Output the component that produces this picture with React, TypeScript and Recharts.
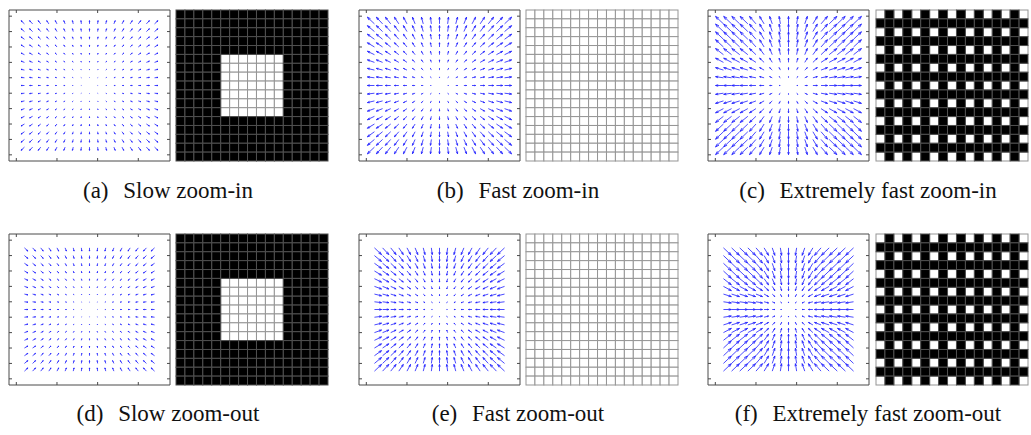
import React from 'react';
import { ScatterChart, Scatter, XAxis, YAxis } from 'recharts';

// ---------- data ----------
const GRID_POS = [1, 2, 3, 4, 5, 6, 7, 8, 9, 10, 11, 12, 13, 14, 15, 16, 17];
const CENTER = 9;
const X_TICKS = [0, 5, 10, 15];
const Y_TICKS = [0, 2, 4, 6, 8, 10, 12, 14, 16, 18];
const X_DOMAIN: [number, number] = [-0.9, 18.9];
const Y_DOMAIN: [number, number] = [-0.8, 18.8];

// flow component (axis units) by offset |d| = 0..8 from the centre
const SLOW_IN = [0, 0.05, 0.1, 0.16, 0.21, 0.26, 0.31, 0.37, 0.42];
const FAST_IN = [0, 0.11, 0.22, 0.33, 0.44, 0.55, 0.66, 0.77, 0.87];
const XFAST_IN = [0, 0.15, 0.32, 0.55, 0.8, 0.95, 0.97, 0.97, 0.97];
const SLOW_OUT = [0, 0.05, 0.1, 0.16, 0.21, 0.26, 0.31, 0.37, 0.42];
const FAST_OUT = [0, 0.11, 0.22, 0.33, 0.44, 0.55, 0.66, 0.77, 0.87];
const XFAST_OUT = [0, 0.15, 0.32, 0.55, 0.8, 0.95, 0.97, 0.97, 0.97];

// 17 x 17 cell patterns, 1 = black
const BLOCK_PATTERN = [
  '11111111111111111',
  '11111111111111111',
  '11111111111111111',
  '11111111111111111',
  '11111111111111111',
  '11111000000011111',
  '11111000000011111',
  '11111000000011111',
  '11111000000011111',
  '11111000000011111',
  '11111000000011111',
  '11111000000011111',
  '11111111111111111',
  '11111111111111111',
  '11111111111111111',
  '11111111111111111',
  '11111111111111111',
];
const BLANK_PATTERN = [
  '00000000000000000', '00000000000000000', '00000000000000000', '00000000000000000',
  '00000000000000000', '00000000000000000', '00000000000000000', '00000000000000000',
  '00000000000000000', '00000000000000000', '00000000000000000', '00000000000000000',
  '00000000000000000', '00000000000000000', '00000000000000000', '00000000000000000',
  '00000000000000000',
];
const CHECK_PATTERN = [
  '01010101010101010', '11111111111111111', '01010101010101010', '11111111111111111',
  '01010101010101010', '11111111111111111', '01010101010101010', '11111111111111111',
  '01010101010101010', '11111111111111111', '01010101010101010', '11111111111111111',
  '01010101010101010', '11111111111111111', '01010101010101010', '11111111111111111',
  '01010101010101010',
];

const LABELS = ['(a)', '(b)', '(c)', '(d)', '(e)', '(f)'];
const CAPTIONS = [
  'Slow zoom-in', 'Fast zoom-in', 'Extremely fast zoom-in',
  'Slow zoom-out', 'Fast zoom-out', 'Extremely fast zoom-out',
];
const PROFILES = [SLOW_IN, FAST_IN, XFAST_IN, SLOW_OUT, FAST_OUT, XFAST_OUT];
const DIRECTIONS = [1, 1, 1, -1, -1, -1];
const PATTERNS = [BLOCK_PATTERN, BLANK_PATTERN, CHECK_PATTERN, BLOCK_PATTERN, BLANK_PATTERN, CHECK_PATTERN];

// ---------- layout ----------
const Q_W = 163;
const Q_H = 153;
const G_W = 154;
const G_H = 153;
const M = 1;
const COL_Q_LEFT = [8, 358, 707];
const COL_G_LEFT = [175, 525, 875];
const ROW_TOP = [9, 233];
const CAP_X = [168, 518, 868];
const CAP_Y = [198, 421];

const KX = (Q_W - 2 * M) / (X_DOMAIN[1] - X_DOMAIN[0]);
const KY = (Q_H - 2 * M) / (Y_DOMAIN[1] - Y_DOMAIN[0]);
const CW = (G_W - 2 * M) / 17;
const CH = (G_H - 2 * M) / 17;

function buildField(profile: number[], dir: number) {
  const out: { x: number; y: number; u: number; v: number }[] = [];
  GRID_POS.forEach((gx) => {
    GRID_POS.forEach((gy) => {
      const dx = gx - CENTER;
      const dy = gy - CENTER;
      out.push({
        x: gx,
        y: gy,
        u: dir * Math.sign(dx) * profile[Math.abs(dx)],
        v: dir * Math.sign(dy) * profile[Math.abs(dy)],
      });
    });
  });
  return out;
}

function buildCells(pattern: string[], want: number) {
  const out: { x: number; y: number; k: number }[] = [];
  pattern.forEach((row, r) => {
    row.split('').forEach((ch, c) => {
      const k = ch === '1' ? 1 : 0;
      if (k === want) out.push({ x: c + 0.5, y: r + 0.5, k });
    });
  });
  return out;
}

const ArrowShape = (props: any) => {
  const { cx, cy, payload } = props;
  const dx = payload.u * KX;
  const dy = -payload.v * KY;
  const len = Math.hypot(dx, dy);
  if (!len || len < 0.3) return <g />;
  const tx = cx + dx;
  const ty = cy + dy;
  const a = 0.33;
  const b = 0.33;
  const h1x = tx - a * (dx + b * dy);
  const h1y = ty - a * (dy - b * dx);
  const h2x = tx - a * (dx - b * dy);
  const h2y = ty - a * (dy + b * dx);
  return (
    <path
      d={`M${cx},${cy}L${tx},${ty}M${h1x},${h1y}L${tx},${ty}L${h2x},${h2y}`}
      stroke="#1f1fff"
      strokeOpacity={0.85}
      strokeWidth={0.95}
      fill="none"
    />
  );
};

const EmptyShape = () => <g />;
const blankTick = () => '';

const CellShape = (props: any) => {
  const { cx, cy, payload } = props;
  return (
    <rect
      x={cx - CW / 2}
      y={cy - CH / 2}
      width={CW}
      height={CH}
      fill={payload.k ? '#000000' : '#ffffff'}
      stroke={payload.k ? '#505050' : '#959595'}
      strokeWidth={1}
    />
  );
};

const AXIS_COLOR = '#4a4a4a';

function Quiver({ idx }: { idx: number }) {
  const data = buildField(PROFILES[idx], DIRECTIONS[idx]);
  const common = {
    type: 'number' as const,
    allowDataOverflow: true,
    interval: 0 as const,
    mirror: true,
    tickSize: 3,
    tickFormatter: blankTick,
    stroke: AXIS_COLOR,
  };
  return (
    <ScatterChart width={Q_W} height={Q_H} margin={{ top: M, right: M, bottom: M, left: M }}>
      <XAxis xAxisId="b" dataKey="x" domain={X_DOMAIN} ticks={X_TICKS} orientation="bottom" height={1} {...common} />
      <XAxis xAxisId="t" dataKey="x" domain={X_DOMAIN} ticks={X_TICKS} orientation="top" height={1} {...common} />
      <YAxis yAxisId="l" dataKey="y" domain={Y_DOMAIN} ticks={Y_TICKS} orientation="left" width={1} {...common} />
      <YAxis yAxisId="r" dataKey="y" domain={Y_DOMAIN} ticks={Y_TICKS} orientation="right" width={1} {...common} />
      <Scatter xAxisId="t" yAxisId="r" data={data.slice(0, 1)} shape={EmptyShape} isAnimationActive={false} />
      <Scatter xAxisId="b" yAxisId="l" data={data} shape={ArrowShape} isAnimationActive={false} />
    </ScatterChart>
  );
}

function Pattern({ idx }: { idx: number }) {
  const white = buildCells(PATTERNS[idx], 0);
  const black = buildCells(PATTERNS[idx], 1);
  return (
    <ScatterChart width={G_W} height={G_H} margin={{ top: M, right: M, bottom: M, left: M }}>
      <XAxis dataKey="x" type="number" domain={[0, 17]} hide />
      <YAxis dataKey="y" type="number" domain={[0, 17]} reversed hide />
      <Scatter data={white} shape={CellShape} isAnimationActive={false} />
      <Scatter data={black} shape={CellShape} isAnimationActive={false} />
    </ScatterChart>
  );
}

export default function App() {
  const panels = [0, 1, 2, 3, 4, 5];
  return (
    <div style={{ position: 'absolute', left: 0, top: 0, width: 1031, height: 435, background: '#fff' }}>
      {panels.map((i) => {
        const col = i % 3;
        const row = Math.floor(i / 3);
        return (
          <React.Fragment key={i}>
            <div style={{ position: 'absolute', left: COL_Q_LEFT[col], top: ROW_TOP[row] }}>
              <Quiver idx={i} />
            </div>
            <div style={{ position: 'absolute', left: COL_G_LEFT[col], top: ROW_TOP[row] }}>
              <Pattern idx={i} />
            </div>
          </React.Fragment>
        );
      })}
      <svg width={1031} height={435} style={{ position: 'absolute', left: 0, top: 0, pointerEvents: 'none' }}>
        {panels.map((i) => (
          <text
            key={i}
            x={CAP_X[i % 3]}
            y={CAP_Y[Math.floor(i / 3)]}
            textAnchor="middle"
            fontFamily="'Liberation Serif', serif"
            fontSize={23}
            fill="#111"
          >
            <tspan>{LABELS[i]}</tspan>
            <tspan dx={9}>{' ' + CAPTIONS[i]}</tspan>
          </text>
        ))}
      </svg>
    </div>
  );
}
